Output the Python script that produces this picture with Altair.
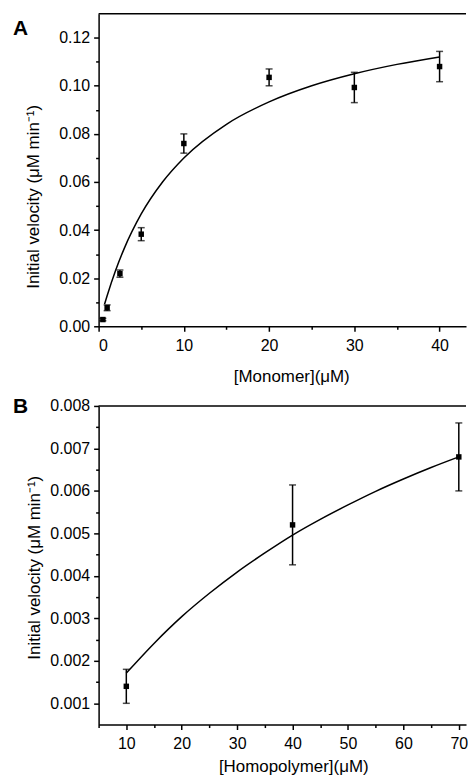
import altair as alt
import pandas as pd

# ---------------- Panel A : monomer ----------------
mono_x = [0.5, 1, 2.5, 5, 10, 20, 30, 40]
mono_v = [0.0028, 0.0077, 0.0219, 0.0383, 0.0760, 0.1035, 0.0993, 0.1080]
mono_err = [0.0005, 0.0012, 0.0015, 0.0027, 0.0040, 0.0035, 0.0063, 0.0063]
mono_fit_x = [0.7, 1, 2, 3, 5, 7.5, 10, 15, 20, 25, 30, 35, 40]
mono_fit_v = [0.0092, 0.0127, 0.0233, 0.0323, 0.0467, 0.0600, 0.0700,
              0.0840, 0.0933, 0.1000, 0.1050, 0.1089, 0.1120]
mono_xticks = [0, 5, 10, 15, 20, 25, 30, 35, 40]
mono_yticks = [0.0, 0.01, 0.02, 0.03, 0.04, 0.05, 0.06, 0.07, 0.08, 0.09,
               0.10, 0.11, 0.12]

# ---------------- Panel B : homopolymer ----------------
homo_x = [10, 40, 70]
homo_v = [0.0014, 0.0052, 0.0068]
homo_err = [0.0004, 0.00094, 0.0008]
homo_fit_x = [10, 15, 20, 25, 30, 35, 40, 45, 50, 55, 60, 65, 70]
homo_fit_v = [0.00171, 0.00241, 0.00304, 0.00359, 0.00409, 0.00454, 0.00496,
              0.00533, 0.00567, 0.00599, 0.00628, 0.00655, 0.00680]
homo_xticks = [5, 10, 15, 20, 25, 30, 35, 40, 45, 50, 55, 60, 65, 70]
homo_yticks = [0.001, 0.0015, 0.002, 0.0025, 0.003, 0.0035, 0.004, 0.0045,
               0.005, 0.0055, 0.006, 0.0065, 0.007, 0.0075, 0.008]

FONT = "Liberation Sans"
W = 369


def panel(px, pv, perr, fx, fv, xdom, ydom, xticks, yticks, xmajor, ymajor,
          xlab, ylab, xtitle, ytitle, xtitle_pos, ytitle_pos, letter, letter_y, H):
    pts = pd.DataFrame({"x": px, "y": pv,
                        "lo": [v - e for v, e in zip(pv, perr)],
                        "hi": [v + e for v, e in zip(pv, perr)]})
    fit = pd.DataFrame({"x": fx, "y": fv})

    xaxis = alt.Axis(values=xticks, title=xtitle,
                     labelExpr=f"({xmajor}) ? {xlab} : ''",
                     tickSize={"condition": {"test": xmajor, "value": 5}, "value": 3},
                     labelPadding=6, titleX=xtitle_pos[0], titleY=xtitle_pos[1],
                     titleAlign="center", titleBaseline="middle")
    yaxis = alt.Axis(values=yticks, title=ytitle,
                     labelExpr=f"({ymajor}) ? {ylab} : ''",
                     tickSize={"condition": {"test": ymajor, "value": 5}, "value": 3},
                     labelPadding=4, titleX=ytitle_pos[0], titleY=ytitle_pos[1],
                     titleAlign="center", titleBaseline="middle", titleAngle=270)
    xs = alt.Scale(domain=xdom, zero=False, nice=False)
    ys = alt.Scale(domain=ydom, zero=False, nice=False)
    X = alt.X("x:Q", scale=xs, axis=xaxis)
    Y = alt.Y("y:Q", scale=ys, axis=yaxis)

    frame = alt.Chart(pd.DataFrame({"k": [0]})).mark_rule(
        color="black", strokeWidth=1.5).encode(
        x=alt.value(0), x2=alt.value(W), y=alt.value(0))
    line = alt.Chart(fit).mark_line(color="black", strokeWidth=1.5,
                                    interpolate="monotone").encode(x=X, y=Y)
    bars = alt.Chart(pts).mark_rule(color="black", strokeWidth=1.5).encode(
        x=X, y=alt.Y("lo:Q", scale=ys, axis=yaxis), y2="hi:Q")
    cap_lo = alt.Chart(pts).mark_tick(color="black", orient="horizontal",
                                      size=7, thickness=1.5).encode(
        x=X, y=alt.Y("lo:Q", scale=ys, axis=yaxis))
    cap_hi = alt.Chart(pts).mark_tick(color="black", orient="horizontal",
                                      size=7, thickness=1.5).encode(
        x=X, y=alt.Y("hi:Q", scale=ys, axis=yaxis))
    sq = alt.Chart(pts).mark_square(color="black", size=30, opacity=1).encode(x=X, y=Y)
    lab = alt.Chart(pd.DataFrame({"t": [letter]})).mark_text(
        font=FONT, fontSize=21, fontWeight="bold", align="left",
        baseline="middle", color="black").encode(
        x=alt.value(-86), y=alt.value(letter_y), text="t:N")
    return alt.layer(frame, line, bars, cap_lo, cap_hi, sq, lab).properties(
        width=W, height=H)


pA = panel(mono_x, mono_v, mono_err, mono_fit_x, mono_fit_v,
           [0, 43.1], [0, 0.13], mono_xticks, mono_yticks,
           "datum.value % 10 == 0", "round(datum.value*100) % 2 == 0",
           "format(datum.value, 'd')", "format(datum.value, '.2f')",
           "[Monomer](\u03bcM)", "Initial velocity (\u03bcM min\u207b\u00b9)",
           (193.5, 50), (-65, 183.5), "A", 15, 314)

pB = panel(homo_x, homo_v, homo_err, homo_fit_x, homo_fit_v,
           [5, 71.3], [0.0005, 0.008], homo_xticks, homo_yticks,
           "datum.value % 10 == 0", "round(datum.value*2000) % 2 == 0",
           "format(datum.value, 'd')", "format(datum.value, '.3f')",
           "[Homopolymer](\u03bcM)", "Initial velocity (\u03bcM min\u207b\u00b9)",
           (195.5, 42), (-64, 162), "B", 1.5, 320)

chart = alt.vconcat(pA, pB, spacing=12).properties(
    padding={"left": 5, "top": 3, "right": 0, "bottom": 0}
).configure_view(stroke=None).configure_axis(
    domainColor="black", domainWidth=1.5, tickColor="black", tickWidth=1.5,
    labelColor="black", titleColor="black", labelFont=FONT, titleFont=FONT,
    labelFontSize=16, titleFontSize=17, titleFontWeight="normal", grid=False)

chart.save("out.html", embed_options={"renderer": "svg", "actions": False})
